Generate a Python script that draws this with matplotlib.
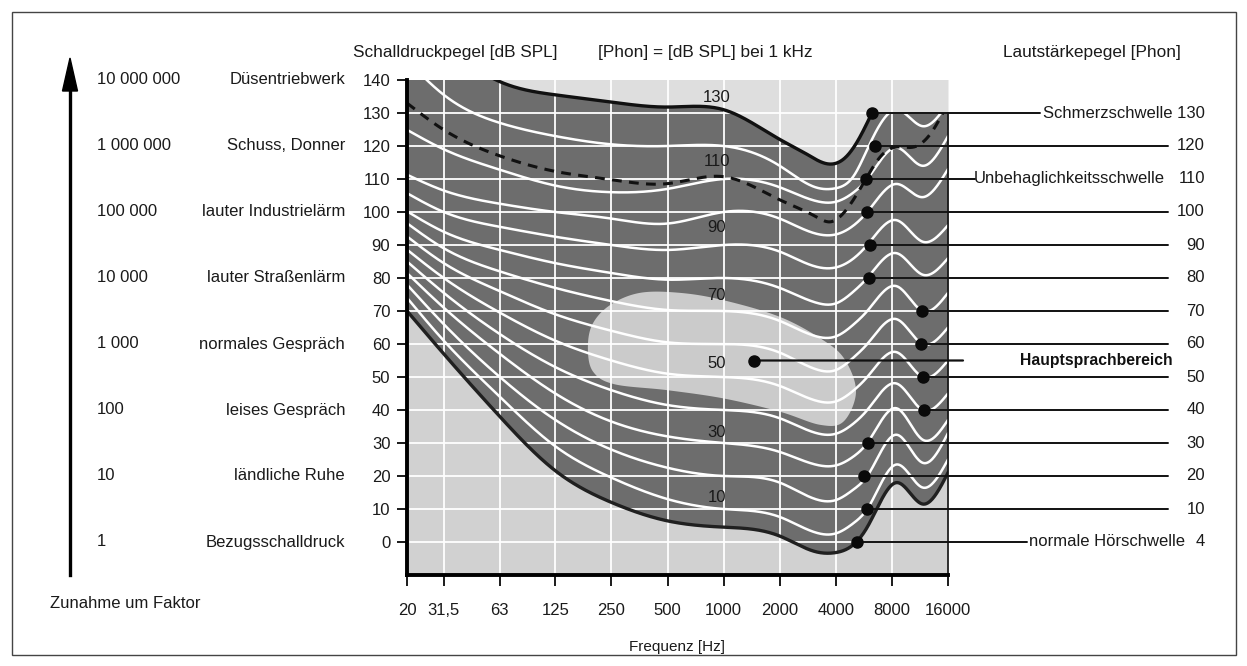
import numpy as np
import matplotlib
matplotlib.use("Agg")
import matplotlib.pyplot as plt
import matplotlib.transforms as mtransforms
from matplotlib.patches import Rectangle, Polygon

plt.rcParams['font.family'] = ['Liberation Sans', 'DejaVu Sans']

# ---------------------------------------------------------------- data
# frequencies (Hz) at which the equal-loudness contours are tabulated
freq = [20, 31.5, 63, 125, 250, 500, 1000, 2000, 3150, 4000, 5000, 5900, 8500, 11700, 16000]

# sound pressure level (dB SPL) of each contour at those frequencies
spl_thr = [70, 57, 38, 21.6, 12, 6.4, 4.5, 1.8, -3.0, -3.2, -0.7, 4.5, 18, 11.5, 21]
spl_10 = [74, 61, 44, 29, 19.5, 13, 10, 7.6, 2.8, 2.6, 5.8, 10, 23.5, 16.5, 25]
spl_20 = [78, 66, 50, 37, 28, 22.5, 20, 18, 12.9, 12.7, 16, 20, 32.5, 24, 33]
spl_30 = [81.5, 71, 57, 45, 36.5, 32, 30, 27.3, 23.4, 23.2, 26, 30, 40.5, 31, 37]
spl_40 = [85, 75.5, 63, 53, 46, 41.5, 40, 37.5, 33, 32.8, 36, 40, 48, 40, 45]
spl_50 = [88.6, 80, 69.5, 61, 55, 51, 50, 47.3, 42.8, 42.6, 46, 50, 57.5, 50, 55]
spl_60 = [92.6, 84.5, 76, 69, 64, 60.5, 60, 57.4, 52.3, 52.1, 56, 60, 67.5, 60, 65]
spl_70 = [96.6, 89, 82, 77, 73, 70.3, 70, 67, 62.3, 62.3, 66, 70, 77.5, 70, 75.5]
spl_80 = [100.2, 94, 88.5, 84.5, 81.5, 79.5, 80, 77, 72.5, 72.3, 76, 80, 87.5, 81, 86]
spl_90 = [105.7, 100, 95.5, 92.5, 90, 88.5, 90, 88, 83.4, 83.2, 86, 90, 97.5, 91, 96]
spl_100 = [111.3, 106.5, 102.5, 100, 98, 96.5, 100, 98, 93.4, 93.2, 96, 100, 108.5, 104.5, 113]
spl_110 = [124.9, 119, 112.8, 108, 106, 107, 110, 107.5, 103.3, 103.1, 106, 110, 119.5, 114, 123]
spl_120 = [146, 135.5, 127, 123, 120.5, 120, 120, 114, 107.4, 107.2, 111, 119, 131, 126, 133]

# pain threshold (130 phon), drawn up to the point where it reaches 130 dB
freq_pain = [20, 31.5, 63, 125, 250, 500, 1000, 2000, 2800, 3600, 4500, 5300, 6250]
spl_pain = [165, 152, 139.5, 135.5, 133.3, 131.8, 131, 122, 117.5, 114.6, 116.5, 122, 130]

# threshold of discomfort (dashed)
freq_disc = [20, 31.5, 63, 125, 250, 500, 1000, 2000, 3150, 3700, 4600, 5800, 7000, 8500, 10500, 13000, 16000]
spl_disc = [133, 124.9, 117, 112.3, 109.8, 108.6, 110.7, 103.7, 98.5, 97, 101, 110, 117, 119.7, 119.7, 124, 133]

# main speech area outline
speech_f = [187, 197, 246, 356, 583, 993, 2008, 3414, 4480, 5134, 4400, 3300, 2000, 1000, 500, 260, 200]
speech_db = [58.2, 65.8, 71.8, 75.5, 75.5, 73.3, 68.2, 61.2, 55.2, 45.5, 36.5, 35.5, 39.5, 43.5, 46, 47.8, 51.5]

# labelled points on the contours (phon value, frequency of the marker)
phon_levels = [130, 120, 110, 100, 90, 80, 70, 60, 50, 40, 30, 20, 10, 4]
marker_f = [6245, 6476, 5797, 5870, 6090, 6015, 11545, 11450, 11700, 11900, 5940, 5670, 5870, 5190]
marker_db = [130, 120, 110, 100, 90, 80, 70, 60, 50, 40, 30, 20, 10, 0]
right_texts = ['Schmerzschwelle 130', '120', 'Unbehaglichkeitsschwelle', '100', '90', '80',
               '70', '60', '50', '40', '30', '20', '10', 'normale Hörschwelle']
speech_marker = (1450, 55)

# contour value labels in the middle of the chart
curve_label_vals = [130, 110, 90, 70, 50, 30, 10]
curve_label_db = [134.8, 115.2, 95.2, 74.8, 54.0, 33.3, 13.6]

# left-hand scale
factor_labels = ['10 000 000', '1 000 000', '100 000', '10 000', '1 000', '100', '10', '1']
source_labels = ['Düsentriebwerk', 'Schuss, Donner', 'lauter Industrielärm', 'lauter Straßenlärm',
                 'normales Gespräch', 'leises Gespräch', 'ländliche Ruhe', 'Bezugsschalldruck']
source_db = [140, 120, 100, 80, 60, 40, 20, 0]

xtick_vals = [20, 31.5, 63, 125, 250, 500, 1000, 2000, 4000, 8000, 16000]
xtick_labels = ['20', '31,5', '63', '125', '250', '500', '1000', '2000', '4000', '8000', '16000']
ytick_vals = list(range(0, 141, 10))


# ---------------------------------------------------------------- helpers
def natural_spline(xk, yk, xs):
    xk = np.asarray(xk, float)
    yk = np.asarray(yk, float)
    n = len(xk)
    h = np.diff(xk)
    A = np.zeros((n, n))
    b = np.zeros(n)
    A[0, 0] = A[-1, -1] = 1.0
    for i in range(1, n - 1):
        A[i, i - 1] = h[i - 1]
        A[i, i] = 2 * (h[i - 1] + h[i])
        A[i, i + 1] = h[i]
        b[i] = 3 * ((yk[i + 1] - yk[i]) / h[i] - (yk[i] - yk[i - 1]) / h[i - 1])
    c = np.linalg.solve(A, b)
    bb = (yk[1:] - yk[:-1]) / h - h * (2 * c[:-1] + c[1:]) / 3
    d = (c[1:] - c[:-1]) / (3 * h)
    i = np.clip(np.searchsorted(xk, xs) - 1, 0, n - 2)
    t = xs - xk[i]
    return yk[i] + bb[i] * t + c[i] * t**2 + d[i] * t**3


def smooth_curve(f, db, n=800):
    lx = np.log2(f)
    xs = np.linspace(lx[0], lx[-1], n)
    return 2.0 ** xs, natural_spline(lx, db, xs)


def closed_spline(f, db, n=30):
    # periodic Catmull-Rom through the outline, in log-frequency space
    u = np.log2(np.asarray(f, float)) * 17.0
    v = np.asarray(db, float)
    P = np.column_stack([u, v])
    N = len(P)
    out = []
    for k in range(N):
        p0, p1, p2, p3 = P[(k - 1) % N], P[k], P[(k + 1) % N], P[(k + 2) % N]
        t = np.linspace(0, 1, n, endpoint=False)[:, None]
        seg = 0.5 * ((2 * p1) + (-p0 + p2) * t + (2 * p0 - 5 * p1 + 4 * p2 - p3) * t**2
                     + (-p0 + 3 * p1 - 3 * p2 + p3) * t**3)
        out.append(seg)
    out = np.vstack(out)
    return 2.0 ** (out[:, 0] / 17.0), out[:, 1]


# ---------------------------------------------------------------- figure
W, H = 1247, 666
fig = plt.figure(figsize=(W / 100, H / 100), dpi=100)


def fx(x):
    return x / W


def fy(y):
    return 1 - y / H


ax = fig.add_axes([fx(407), fy(575), fx(948) - fx(407), fy(80) - fy(575)])
ax.set_xscale('log')
ax.set_xlim(20, 16000)
ax.set_ylim(-10, 140)

fgrid = np.logspace(np.log10(20), np.log10(16000), 1500)
thr_line = natural_spline(np.log2(freq), spl_thr, np.log2(fgrid))
pain_part = natural_spline(np.log2(freq_pain), spl_pain, np.log2(np.minimum(fgrid, freq_pain[-1])))
upper = np.where(fgrid <= freq_pain[-1], pain_part, 130.0)

# background zones
ax.set_facecolor('#d3d3d3')
ax.fill_between(fgrid, upper, 145, color='#dedede', zorder=0.5, lw=0)
ax.fill_between(fgrid, -15, thr_line, color='#d1d1d1', zorder=0.5, lw=0)
audible = ax.fill_between(fgrid, thr_line, upper, color='#6d6d6d', zorder=1, lw=0)

# speech area
sf, sd = closed_spline(speech_f, speech_db)
ax.fill(sf, sd, color='#cbcbcb', zorder=1.5, lw=0)

# grid
for xv in xtick_vals[1:-1]:
    ax.axvline(xv, color='white', lw=1.3, zorder=2)
for yv in ytick_vals[:-1]:
    ax.axhline(yv, color='white', lw=1.3, zorder=2)

clip_path = audible.get_paths()[0]

# equal-loudness contours
for vals in [spl_10, spl_20, spl_30, spl_40, spl_50, spl_60, spl_70,
             spl_80, spl_90, spl_100, spl_110, spl_120]:
    cf, cd = smooth_curve(freq, vals)
    ln, = ax.plot(cf, cd, color='white', lw=1.8, zorder=3, solid_capstyle='round')
    ln.set_clip_path(clip_path, ax.transData)

# hearing threshold and pain threshold
cf, cd = smooth_curve(freq, spl_thr)
ax.plot(cf, cd, color='#202020', lw=2.4, zorder=4)
cf, cd = smooth_curve(freq_pain, spl_pain)
ax.plot(cf, cd, color='#111111', lw=2.4, zorder=4)

# threshold of discomfort
cf, cd = smooth_curve(freq_disc, spl_disc)
ln, = ax.plot(cf, cd, color='#111111', lw=2.2, zorder=4, linestyle=(0, (3.2, 2.4)))
ln.set_clip_path(clip_path, ax.transData)

# contour value labels
for v, d in zip(curve_label_vals, curve_label_db):
    ax.text(920, d, str(v), ha='center', va='center', fontsize=12, color='#1a1a1a', zorder=5)

# axes styling
for side in ['top', 'right']:
    ax.spines[side].set_visible(False)
ax.spines['left'].set_linewidth(2.8)
ax.spines['bottom'].set_linewidth(2.8)
ax.spines['left'].set_zorder(6)
ax.spines['bottom'].set_zorder(6)
ax.set_xticks(xtick_vals)
ax.set_xticklabels(xtick_labels)
ax.xaxis.set_minor_locator(matplotlib.ticker.NullLocator())
ax.set_yticks(ytick_vals)
ax.tick_params(axis='x', direction='out', length=8, width=1.4, pad=12, labelsize=12, colors='#1a1a1a')
ax.tick_params(axis='y', direction='out', length=7, width=1.4, pad=5, labelsize=12, colors='#1a1a1a')
ax.plot([16000, 16000], [-10, 130], color='#111111', lw=1.2, zorder=6, clip_on=False)

# markers and leader lines on the right
blend = mtransforms.blended_transform_factory(fig.transFigure, ax.transData)
line_end = {0: 1040, 2: 975, 13: 1027}
for k, (mf, md, txt) in enumerate(zip(marker_f, marker_db, right_texts)):
    xe = line_end.get(k, 1168)
    ax.annotate('', xy=(mf, md), xycoords='data', xytext=(fx(xe), md), textcoords=blend,
                arrowprops=dict(arrowstyle='-', lw=1.4, color='#111111', shrinkA=0, shrinkB=0),
                annotation_clip=False, zorder=5)
    ax.plot(mf, md, 'o', color='#0a0a0a', ms=8, zorder=7, clip_on=False)
    if k == 2:
        ax.text(fx(1165), md, txt, transform=blend, ha='right', va='center', fontsize=12, color='#1a1a1a')
        ax.text(fx(1205), md, '110', transform=blend, ha='right', va='center', fontsize=12, color='#1a1a1a')
    elif k == 13:
        ax.text(fx(1185), md, txt, transform=blend, ha='right', va='center', fontsize=12, color='#1a1a1a')
        ax.text(fx(1205), md, str(phon_levels[k]), transform=blend, ha='right', va='center',
                fontsize=12, color='#1a1a1a')
    else:
        ax.text(fx(1205), md, txt, transform=blend, ha='right', va='center', fontsize=12, color='#1a1a1a')

ax.annotate('', xy=speech_marker, xycoords='data', xytext=(fx(963), speech_marker[1]), textcoords=blend,
            arrowprops=dict(arrowstyle='-', lw=1.6, color='#111111', shrinkA=0, shrinkB=0),
            annotation_clip=False, zorder=5)
ax.plot(*speech_marker, 'o', color='#0a0a0a', ms=8, zorder=7, clip_on=False)
ax.text(fx(1020), speech_marker[1], 'Hauptsprachbereich', transform=blend, ha='left', va='center',
        fontsize=11.3, fontweight='bold', color='#111111')

# left-hand scale
for fl, sl, d in zip(factor_labels, source_labels, source_db):
    ax.text(fx(97), d, fl, transform=blend, ha='left', va='center', fontsize=12, color='#1a1a1a')
    ax.text(fx(345), d, sl, transform=blend, ha='right', va='center', fontsize=12, color='#1a1a1a')
fig.text(fx(50), fy(604), 'Zunahme um Faktor', ha='left', va='center', fontsize=12, color='#1a1a1a')

# upward arrow
fig.add_artist(plt.Line2D([fx(70), fx(70)], [fy(575), fy(88)], color='black', lw=2.4))
fig.add_artist(Polygon([[fx(70), fy(58)], [fx(62.5), fy(91)], [fx(77.5), fy(91)]],
                       closed=True, color='black', transform=fig.transFigure))

# headers
fig.text(fx(353), fy(52), 'Schalldruckpegel [dB SPL]', ha='left', va='center', fontsize=12.4, color='#1a1a1a')
fig.text(fx(598), fy(52), '[Phon] = [dB SPL] bei 1 kHz', ha='left', va='center', fontsize=12.4, color='#1a1a1a')
fig.text(fx(1003), fy(52), 'Lautstärkepegel [Phon]', ha='left', va='center', fontsize=12.4, color='#1a1a1a')
fig.text(fx(677), fy(647), 'Frequenz [Hz]', ha='center', va='center', fontsize=11, color='#1a1a1a')

# frame
fig.add_artist(Rectangle((fx(12), fy(655)), fx(1236) - fx(12), fy(12) - fy(655), fill=False,
                         edgecolor='#444444', lw=1.0, transform=fig.transFigure))

fig.savefig('out.png', dpi=100)
